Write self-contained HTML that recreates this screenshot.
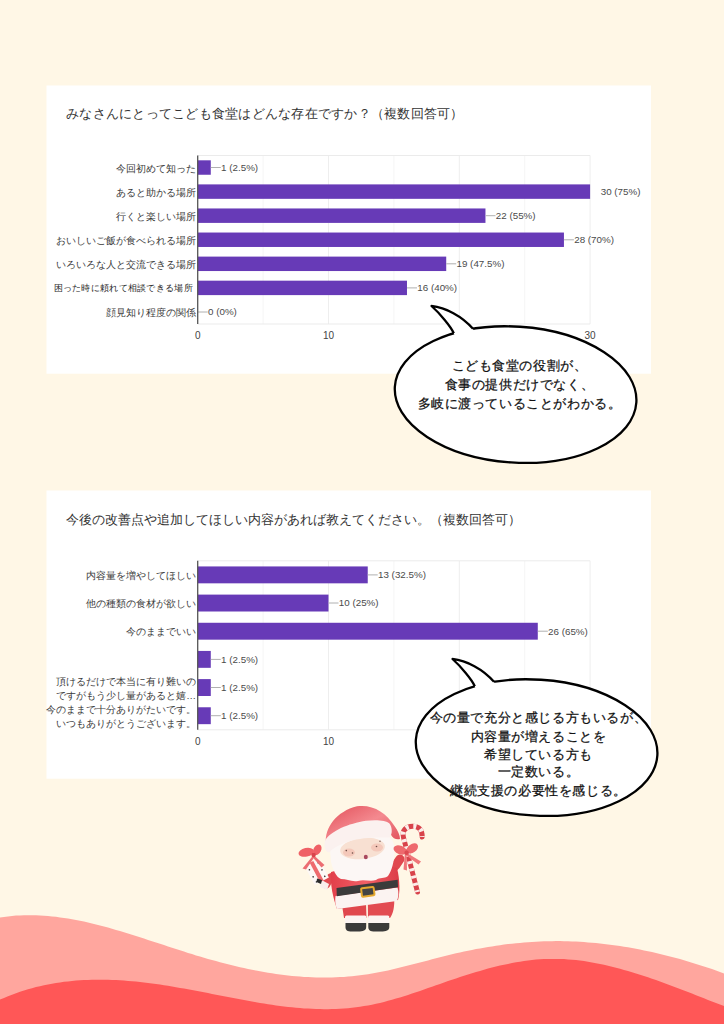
<!DOCTYPE html>
<html lang="ja"><head><meta charset="utf-8">
<style>
html,body{margin:0;padding:0;}
body{width:724px;height:1024px;overflow:hidden;background:#FFF7E6;font-family:"Liberation Sans",sans-serif;}
svg{display:block;}
.title{font-size:13.2px;fill:#333;}
.cat{font-size:9.8px;fill:#3a3a3a;}
.val{font-size:9.8px;fill:#4a4a4a;}
.ax{font-size:10px;fill:#444;}
.sm{font-size:9.3px;}
.bub{font-size:13px;fill:#111;letter-spacing:0.6px;stroke:#111;stroke-width:0.25px;}
</style></head><body>
<svg width="724" height="1024" viewBox="0 0 724 1024" font-family="Liberation Sans, sans-serif">
<rect x="46.5" y="85.5" width="604.5" height="288.2" fill="#fff"/>
<text x="66.2" y="118.3" class="title" letter-spacing="0.25">みなさんにとってこども食堂はどんな存在ですか？（複数回答可）</text>
<line x1="263.1" y1="155.5" x2="263.1" y2="324" stroke="#f5f5f5" stroke-width="1"/>
<line x1="328.5" y1="155.5" x2="328.5" y2="324" stroke="#eeeeee" stroke-width="1"/>
<line x1="393.9" y1="155.5" x2="393.9" y2="324" stroke="#f5f5f5" stroke-width="1"/>
<line x1="459.3" y1="155.5" x2="459.3" y2="324" stroke="#eeeeee" stroke-width="1"/>
<line x1="524.7" y1="155.5" x2="524.7" y2="324" stroke="#f5f5f5" stroke-width="1"/>
<line x1="590.1" y1="155.5" x2="590.1" y2="324" stroke="#eeeeee" stroke-width="1"/>
<line x1="197.7" y1="155.5" x2="590.1" y2="155.5" stroke="#ebebeb" stroke-width="1"/>
<line x1="197.7" y1="324" x2="590.1" y2="324" stroke="#ebebeb" stroke-width="1"/>
<rect x="197.7" y="160.31" width="13.08" height="14.44" fill="#673AB7"/>
<line x1="210.8" y1="167.5" x2="220.8" y2="167.5" stroke="#b0b0b0" stroke-width="1"/>
<text x="221.1" y="170.9" class="val">1 (2.5%)</text>
<text x="196" y="171.5" class="cat" text-anchor="end">今回初めて知った</text>
<rect x="197.7" y="184.39" width="392.40" height="14.44" fill="#673AB7"/>
<text x="600.7" y="195.0" class="val">30 (75%)</text>
<text x="196" y="195.6" class="cat" text-anchor="end">あると助かる場所</text>
<rect x="197.7" y="208.46" width="287.76" height="14.44" fill="#673AB7"/>
<line x1="485.5" y1="215.7" x2="495.5" y2="215.7" stroke="#b0b0b0" stroke-width="1"/>
<text x="495.8" y="219.1" class="val">22 (55%)</text>
<text x="196" y="219.7" class="cat" text-anchor="end">行くと楽しい場所</text>
<rect x="197.7" y="232.53" width="366.24" height="14.44" fill="#673AB7"/>
<line x1="563.9" y1="239.8" x2="573.9" y2="239.8" stroke="#b0b0b0" stroke-width="1"/>
<text x="574.2" y="243.2" class="val">28 (70%)</text>
<text x="196" y="243.8" class="cat" text-anchor="end">おいしいご飯が食べられる場所</text>
<rect x="197.7" y="256.60" width="248.52" height="14.44" fill="#673AB7"/>
<line x1="446.2" y1="263.8" x2="456.2" y2="263.8" stroke="#b0b0b0" stroke-width="1"/>
<text x="456.5" y="267.2" class="val">19 (47.5%)</text>
<text x="196" y="267.8" class="cat" text-anchor="end">いろいろな人と交流できる場所</text>
<rect x="197.7" y="280.67" width="209.28" height="14.44" fill="#673AB7"/>
<line x1="407.0" y1="287.9" x2="417.0" y2="287.9" stroke="#b0b0b0" stroke-width="1"/>
<text x="417.3" y="291.3" class="val">16 (40%)</text>
<text x="193" y="291.2" class="cat sm" text-anchor="end" letter-spacing="0.3" fill="#2a2a2a" style="fill:#2a2a2a">困った時に頼れて相談できる場所</text>
<line x1="197.7" y1="312.0" x2="207.7" y2="312.0" stroke="#b0b0b0" stroke-width="1"/>
<text x="208.0" y="315.4" class="val">0 (0%)</text>
<text x="196" y="316.0" class="cat" text-anchor="end">顔見知り程度の関係</text>
<line x1="197.7" y1="155.5" x2="197.7" y2="324" stroke="#555" stroke-width="1.3"/>
<text x="197.7" y="338.9" class="ax" text-anchor="middle">0</text>
<text x="328.5" y="338.9" class="ax" text-anchor="middle">10</text>
<text x="459.3" y="338.9" class="ax" text-anchor="middle">20</text>
<text x="590.1" y="338.9" class="ax" text-anchor="middle">30</text>
<rect x="46.5" y="490.5" width="604.5" height="288.2" fill="#fff"/>
<text x="66.2" y="524" class="title">今後の改善点や追加してほしい内容があれば教えてください。（複数回答可）</text>
<line x1="263.1" y1="560.8" x2="263.1" y2="729.8" stroke="#f5f5f5" stroke-width="1"/>
<line x1="328.5" y1="560.8" x2="328.5" y2="729.8" stroke="#eeeeee" stroke-width="1"/>
<line x1="393.9" y1="560.8" x2="393.9" y2="729.8" stroke="#f5f5f5" stroke-width="1"/>
<line x1="459.3" y1="560.8" x2="459.3" y2="729.8" stroke="#eeeeee" stroke-width="1"/>
<line x1="524.7" y1="560.8" x2="524.7" y2="729.8" stroke="#f5f5f5" stroke-width="1"/>
<line x1="590.1" y1="560.8" x2="590.1" y2="729.8" stroke="#eeeeee" stroke-width="1"/>
<line x1="197.7" y1="560.8" x2="590.1" y2="560.8" stroke="#ebebeb" stroke-width="1"/>
<line x1="197.7" y1="729.8" x2="590.1" y2="729.8" stroke="#ebebeb" stroke-width="1"/>
<rect x="197.7" y="566.43" width="170.04" height="16.90" fill="#673AB7"/>
<line x1="367.7" y1="574.9" x2="377.7" y2="574.9" stroke="#b0b0b0" stroke-width="1"/>
<text x="378.0" y="578.3" class="val">13 (32.5%)</text>
<text x="196" y="578.9" class="cat" text-anchor="end">内容量を増やしてほしい</text>
<rect x="197.7" y="594.60" width="130.80" height="16.90" fill="#673AB7"/>
<line x1="328.5" y1="603.0" x2="338.5" y2="603.0" stroke="#b0b0b0" stroke-width="1"/>
<text x="338.8" y="606.4" class="val">10 (25%)</text>
<text x="196" y="607.0" class="cat" text-anchor="end">他の種類の食材が欲しい</text>
<rect x="197.7" y="622.77" width="340.08" height="16.90" fill="#673AB7"/>
<line x1="537.8" y1="631.2" x2="547.8" y2="631.2" stroke="#b0b0b0" stroke-width="1"/>
<text x="548.1" y="634.6" class="val">26 (65%)</text>
<text x="196" y="635.2" class="cat" text-anchor="end">今のままでいい</text>
<rect x="197.7" y="650.93" width="13.08" height="16.90" fill="#673AB7"/>
<line x1="210.8" y1="659.4" x2="220.8" y2="659.4" stroke="#b0b0b0" stroke-width="1"/>
<text x="221.1" y="662.8" class="val">1 (2.5%)</text>
<rect x="197.7" y="679.10" width="13.08" height="16.90" fill="#673AB7"/>
<line x1="210.8" y1="687.5" x2="220.8" y2="687.5" stroke="#b0b0b0" stroke-width="1"/>
<text x="221.1" y="690.9" class="val">1 (2.5%)</text>
<text x="196" y="684.5" class="cat" text-anchor="end">頂けるだけで本当に有り難いの</text>
<text x="196" y="698.5" class="cat" text-anchor="end">ですがもう少し量があると嬉…</text>
<rect x="197.7" y="707.27" width="13.08" height="16.90" fill="#673AB7"/>
<line x1="210.8" y1="715.7" x2="220.8" y2="715.7" stroke="#b0b0b0" stroke-width="1"/>
<text x="221.1" y="719.1" class="val">1 (2.5%)</text>
<text x="196" y="712.7" class="cat" text-anchor="end">今のままで十分ありがたいです。</text>
<text x="196" y="726.7" class="cat" text-anchor="end">いつもありがとうございます。</text>
<line x1="197.7" y1="560.8" x2="197.7" y2="729.8" stroke="#555" stroke-width="1.3"/>
<text x="197.7" y="744.7" class="ax" text-anchor="middle">0</text>
<text x="328.5" y="744.7" class="ax" text-anchor="middle">10</text>
<text x="459.3" y="744.7" class="ax" text-anchor="middle">20</text>
<text x="590.1" y="744.7" class="ax" text-anchor="middle">30</text>
<path d="M-4,918.2 L0,917.5 L4,916.9 L8,916.4 L12,916.0 L16,915.6 L20,915.4 L24,915.3 L28,915.2 L32,915.2 L36,915.3 L40,915.5 L44,915.7 L48,916.0 L52,916.4 L56,916.8 L60,917.4 L64,917.9 L68,918.6 L72,919.3 L76,920.0 L80,920.8 L84,921.6 L88,922.5 L92,923.5 L96,924.4 L100,925.5 L104,926.5 L108,927.6 L112,928.7 L116,929.9 L120,931.1 L124,932.3 L128,933.5 L132,934.7 L136,936.0 L140,937.3 L144,938.6 L148,939.9 L152,941.2 L156,942.5 L160,943.8 L164,945.1 L168,946.4 L172,947.7 L176,949.0 L180,950.3 L184,951.6 L188,952.9 L192,954.1 L196,955.4 L200,956.6 L204,957.7 L208,958.9 L212,960.0 L216,961.1 L220,962.2 L224,963.3 L228,964.3 L232,965.3 L236,966.2 L240,967.2 L244,968.1 L248,968.9 L252,969.8 L256,970.5 L260,971.3 L264,972.0 L268,972.7 L272,973.3 L276,973.9 L280,974.5 L284,975.0 L288,975.4 L292,975.9 L296,976.2 L300,976.6 L304,976.9 L308,977.1 L312,977.3 L316,977.4 L320,977.5 L324,977.5 L328,977.5 L332,977.4 L336,977.3 L340,977.1 L344,976.9 L348,976.6 L352,976.2 L356,975.8 L360,975.3 L364,974.8 L368,974.2 L372,973.6 L376,972.8 L380,972.1 L384,971.3 L388,970.4 L392,969.5 L396,968.6 L400,967.6 L404,966.6 L408,965.6 L412,964.6 L416,963.5 L420,962.5 L424,961.4 L428,960.4 L432,959.3 L436,958.3 L440,957.3 L444,956.2 L448,955.2 L452,954.3 L456,953.3 L460,952.4 L464,951.6 L468,950.7 L472,949.9 L476,949.1 L480,948.4 L484,947.7 L488,947.0 L492,946.4 L496,945.7 L500,945.2 L504,944.6 L508,944.1 L512,943.7 L516,943.3 L520,942.9 L524,942.5 L528,942.2 L532,941.9 L536,941.7 L540,941.5 L544,941.3 L548,941.2 L552,941.2 L556,941.1 L560,941.1 L564,941.2 L568,941.3 L572,941.4 L576,941.6 L580,941.8 L584,942.1 L588,942.4 L592,942.7 L596,943.0 L600,943.5 L604,943.9 L608,944.4 L612,944.9 L616,945.5 L620,946.0 L624,946.7 L628,947.3 L632,948.0 L636,948.8 L640,949.5 L644,950.4 L648,951.2 L652,952.1 L656,953.0 L660,953.9 L664,954.9 L668,955.9 L672,957.0 L676,958.0 L680,959.1 L684,960.3 L688,961.5 L692,962.7 L696,963.9 L700,965.2 L704,966.5 L708,967.8 L712,969.1 L716,970.5 L720,971.9 L724,973.4 L728,974.9 L728,1030 L-4,1030 Z" fill="#FFA69E"/>
<path d="M-4,1001.4 L0,999.6 L4,997.9 L8,996.2 L12,994.7 L16,993.2 L20,991.8 L24,990.5 L28,989.3 L32,988.2 L36,987.1 L40,986.2 L44,985.3 L48,984.4 L52,983.7 L56,983.0 L60,982.4 L64,981.8 L68,981.4 L72,980.9 L76,980.6 L80,980.3 L84,980.1 L88,979.9 L92,979.8 L96,979.7 L100,979.7 L104,979.7 L108,979.8 L112,979.9 L116,980.1 L120,980.3 L124,980.6 L128,980.9 L132,981.2 L136,981.6 L140,982.0 L144,982.5 L148,983.0 L152,983.5 L156,984.0 L160,984.6 L164,985.2 L168,985.8 L172,986.5 L176,987.2 L180,987.9 L184,988.6 L188,989.3 L192,990.0 L196,990.8 L200,991.5 L204,992.3 L208,993.1 L212,993.9 L216,994.7 L220,995.4 L224,996.2 L228,997.0 L232,997.8 L236,998.6 L240,999.3 L244,1000.1 L248,1000.8 L252,1001.5 L256,1002.2 L260,1002.9 L264,1003.6 L268,1004.2 L272,1004.8 L276,1005.4 L280,1005.9 L284,1006.4 L288,1006.9 L292,1007.3 L296,1007.7 L300,1008.1 L304,1008.4 L308,1008.6 L312,1008.8 L316,1009.0 L320,1009.1 L324,1009.2 L328,1009.2 L332,1009.1 L336,1009.0 L340,1008.8 L344,1008.5 L348,1008.2 L352,1007.8 L356,1007.3 L360,1006.8 L364,1006.1 L368,1005.4 L372,1004.7 L376,1003.8 L380,1002.9 L384,1001.9 L388,1000.8 L392,999.7 L396,998.6 L400,997.4 L404,996.2 L408,994.9 L412,993.6 L416,992.2 L420,990.9 L424,989.5 L428,988.1 L432,986.7 L436,985.3 L440,983.9 L444,982.5 L448,981.1 L452,979.8 L456,978.4 L460,977.1 L464,975.8 L468,974.5 L472,973.3 L476,972.0 L480,970.9 L484,969.7 L488,968.6 L492,967.6 L496,966.6 L500,965.6 L504,964.7 L508,963.9 L512,963.1 L516,962.3 L520,961.7 L524,961.0 L528,960.5 L532,960.0 L536,959.6 L540,959.3 L544,959.1 L548,958.9 L552,958.9 L556,958.9 L560,959.0 L564,959.1 L568,959.4 L572,959.7 L576,960.1 L580,960.6 L584,961.1 L588,961.7 L592,962.4 L596,963.2 L600,964.0 L604,964.8 L608,965.7 L612,966.7 L616,967.7 L620,968.7 L624,969.9 L628,971.0 L632,972.2 L636,973.4 L640,974.7 L644,976.0 L648,977.3 L652,978.7 L656,980.1 L660,981.5 L664,983.0 L668,984.5 L672,985.9 L676,987.5 L680,989.0 L684,990.5 L688,992.1 L692,993.6 L696,995.2 L700,996.7 L704,998.3 L708,999.9 L712,1001.4 L716,1003.0 L720,1004.5 L724,1006.1 L728,1007.6 L728,1030 L-4,1030 Z" fill="#FF5757"/>

<g id="santa">
<defs>
<linearGradient id="hatg" x1="0" y1="0" x2="1" y2="1"><stop offset="0" stop-color="#E24E58"/><stop offset="0.5" stop-color="#F48A90"/><stop offset="1" stop-color="#E04E57"/></linearGradient>
<linearGradient id="bodyg" x1="0" y1="0" x2="1" y2="0"><stop offset="0" stop-color="#E23F4A"/><stop offset="0.5" stop-color="#EF5F66"/><stop offset="1" stop-color="#DC3D47"/></linearGradient>
</defs>
<!-- candy cane -->
<path d="M417.5,892 L403.6,838 C401.5,830 406,826.5 412.8,826.3 C419,826.2 422.4,830 422.2,837" fill="none" stroke="#D8434B" stroke-width="5" stroke-linecap="round"/>
<path d="M417.5,892 L403.6,838 C401.5,830 406,826.5 412.8,826.3 C419,826.2 422.4,830 422.2,837" fill="none" stroke="#FBEDEA" stroke-width="5" stroke-dasharray="3 4.5" stroke-dashoffset="1"/>
<!-- right arm -->
<path d="M378,878 C388,874 395,868 400,859" fill="none" stroke="#E0484F" stroke-width="9" stroke-linecap="round"/>
<!-- left arm -->
<path d="M338,876 C332,876 328,879 326,884" fill="none" stroke="#E0484F" stroke-width="9" stroke-linecap="round"/>
<path d="M321.5,880 L329,884 L327,890 L320,887 Z" fill="#F8EEEC"/>
<!-- body -->
<path d="M331,872 C345,868 385,864 397,868 C400,880 400,893 398,900 L337,909 C333,898 330,884 331,872 Z" fill="url(#bodyg)"/>
<!-- legs -->
<path d="M342,905 L366,903 L366.5,918 L344,918 Z" fill="#E0474E"/>
<path d="M367.8,902 L394,897 C395,906 393,914 390,918 L368,918 Z" fill="#E24B52"/>
<!-- cuffs -->
<rect x="345" y="915.4" width="21.4" height="8.5" rx="1.5" fill="#FBF4F2"/>
<rect x="368.1" y="915.4" width="21.2" height="8.5" rx="1.5" fill="#FBF4F2"/>
<!-- boots -->
<path d="M345.5,923 L366.2,923 L366.2,927 C366.2,930.5 363,931.6 358,931.6 L352,931.6 C347,931.6 345.5,930 345.5,927 Z" fill="#3a3a3a"/>
<path d="M368.3,923 L389.3,923 L389.3,927 C389.3,930.5 386,931.6 381,931.6 L375,931.6 C370,931.6 368.3,930 368.3,927 Z" fill="#3a3a3a"/>
<!-- coat fur -->
<path d="M335.5,896 L397.5,887.5 C399,892 398.5,897 397,901 L337,909 C335,905 335,900 335.5,896 Z" fill="#FBF3F1"/>
<!-- belt -->
<path d="M336.5,888 L397.7,879.8 L398,887.2 L336.8,896.2 Z" fill="#3B3B3B"/>
<g transform="rotate(-7.5 367.8 891.8)"><rect x="361.5" y="887.6" width="12.6" height="8.4" rx="1" fill="#444" stroke="#E6A92F" stroke-width="2"/></g>
<!-- beard -->
<path d="M330,850 C329,843 336,838 344,840 L384,835 C392,836 395,843 394.5,852 C394,862 392,870 388,876 C384,879 380,877 376,880 C370,882 364,879 358,881 C351,882 347,879 341,879 C336,877 333,870 331,862 Z" fill="#FCF7F5"/>
<!-- face -->
<ellipse cx="362.5" cy="848.5" rx="22.5" ry="10.5" transform="rotate(-7 362.5 848.5)" fill="#F8E0D2"/>
<ellipse cx="349" cy="852.5" rx="6" ry="4" fill="#F3C2B4" opacity="0.8"/>
<ellipse cx="377" cy="847.5" rx="6" ry="4" fill="#F3C2B4" opacity="0.8"/>
<circle cx="346.3" cy="850.6" r="0.8" fill="#6b4a44"/><circle cx="352.5" cy="853" r="0.8" fill="#6b4a44"/>
<circle cx="376.5" cy="846.5" r="0.8" fill="#6b4a44"/><circle cx="380" cy="841.3" r="0.7" fill="#6b4a44"/>
<ellipse cx="365.8" cy="857" rx="2" ry="2.2" fill="#A8485E"/>
<!-- hat -->
<path d="M326,844 C324,828 337,811 357,806.3 C372,804 386,812 394.5,826 C398,831 400,835 400,839 C397,840 393,839 390.5,834 L366,828 L332,840 Z" fill="url(#hatg)"/>
<!-- brim -->
<path d="M325,841 C330,831 349,823.5 366,820.8 C377,819.5 386,820.5 389.5,823.5 C392.5,828 392.5,834 389.5,837.5 C380,837.5 366,837 352,840.5 C341,843.5 333,848 329,852.5 C325,851.5 323.5,846 325,841 Z" fill="#FBF1EF"/>
<!-- gift -->
<g transform="rotate(-28 318 872)">
<rect x="309" y="860" width="16" height="22" fill="#FDF8F6"/>
<rect x="315" y="860" width="4" height="22" fill="#EE6A6E"/>
<circle cx="311.5" cy="866" r="0.8" fill="#333"/><circle cx="322.5" cy="864" r="0.8" fill="#333"/><circle cx="311.5" cy="874" r="0.8" fill="#333"/><circle cx="322.5" cy="872" r="0.8" fill="#333"/><circle cx="312" cy="880" r="0.8" fill="#333"/><circle cx="322" cy="879" r="0.8" fill="#333"/>
</g>
<path d="M317,878.5 L322,880 L321,884 L316.5,882 Z" fill="#2b2b2b"/>
<!-- gift bow -->
<path d="M313.5,855 L302.5,868.5 L306,869.5 L314.5,857 Z" fill="#EC6D72"/>
<path d="M313.5,855 L324.5,865 L321.5,867.5 L312.5,857 Z" fill="#EC6D72"/>
<ellipse cx="306.2" cy="852.3" rx="7.8" ry="4.3" transform="rotate(-12 306.2 852.3)" fill="#EF6166"/>
<ellipse cx="317.3" cy="849.8" rx="5.6" ry="3.8" transform="rotate(-62 317.3 849.8)" fill="#EF6166"/>
<circle cx="313.6" cy="855" r="2.2" fill="#D9444B"/>
<!-- cane bow -->
<path d="M406.6,852.8 L421,861.5 L418.5,864.5 L405.5,855 Z" fill="#EF767A"/>
<path d="M406.6,852.8 L407,870.5 L403.5,869.5 L404.8,854 Z" fill="#EF767A"/>
<ellipse cx="400.2" cy="850" rx="7" ry="4.2" transform="rotate(22 400.2 850)" fill="#EE6A6E"/>
<ellipse cx="412.3" cy="848.4" rx="6.4" ry="4.2" transform="rotate(-35 412.3 848.4)" fill="#EE6A6E"/>
<circle cx="406.6" cy="852.8" r="2.2" fill="#DC4A51"/>
</g>

<ellipse cx="515.6" cy="394.6" rx="121" ry="68" transform="rotate(3.75 515.6 394.6)" fill="#fff" stroke="#000" stroke-width="2.3"/>
<path d="M431.5,306.0 C445.5,307.5 462.0,316.0 473.0,328.8 L474.0,332.3 L455.3,336.8 L453.8,333.3 C451.3,327.1 439.5,313.0 431.5,306.0 Z" fill="#fff"/>
<path d="M453.8,333.3 C451.3,327.1 439.5,313.0 431.5,306.0 C445.5,307.5 462.0,316.0 473.0,328.8" fill="none" stroke="#000" stroke-width="2.3" stroke-linejoin="round"/>
<text x="519.5" y="370.2" class="bub" text-anchor="middle">こども食堂の役割が、</text>
<text x="519.5" y="389.3" class="bub" text-anchor="middle">食事の提供だけでなく、</text>
<text x="519.5" y="408.2" class="bub" text-anchor="middle">多岐に渡っていることがわかる。</text>
<ellipse cx="536.6" cy="747.6" rx="121" ry="68" transform="rotate(3.75 536.6 747.6)" fill="#fff" stroke="#000" stroke-width="2.3"/>
<path d="M452.5,659.0 C466.5,660.5 483.0,669.0 494.0,681.8 L495.0,685.3 L476.3,689.8 L474.8,686.3 C472.3,680.1 460.5,666.0 452.5,659.0 Z" fill="#fff"/>
<path d="M474.8,686.3 C472.3,680.1 460.5,666.0 452.5,659.0 C466.5,660.5 483.0,669.0 494.0,681.8" fill="none" stroke="#000" stroke-width="2.3" stroke-linejoin="round"/>
<text x="538.5" y="721.6" class="bub" text-anchor="middle">今の量で充分と感じる方もいるが、</text>
<text x="538.5" y="740.8" class="bub" text-anchor="middle">内容量が増えることを</text>
<text x="538.5" y="759.0" class="bub" text-anchor="middle">希望している方も</text>
<text x="538.5" y="776.3" class="bub" text-anchor="middle">一定数いる。</text>
<text x="538.5" y="794.5" class="bub" text-anchor="middle">継続支援の必要性を感じる。</text>
</svg>
</body></html>
